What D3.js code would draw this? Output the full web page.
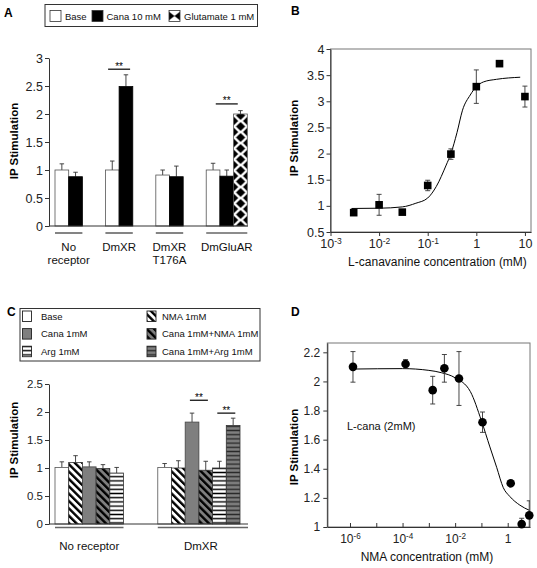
<!DOCTYPE html>
<html><head><meta charset="utf-8">
<script src="https://cdn.jsdelivr.net/npm/d3@7"></script>
<style>
body{margin:0;background:#fff;}
svg{display:block;font-family:"Liberation Sans",Arial,Helvetica,sans-serif;}
</style></head><body>
<svg id="c" width="537" height="568"></svg>
<script>
// ---------- Panel A data ----------
const groupsA = ["No receptor","DmXR","DmXR T176A","DmGluAR"];
const groupLinesA = [["No","receptor"],["DmXR"],["DmXR","T176A"],["DmGluAR"]];
const seriesA = ["Base","Cana 10 mM","Glutamate 1 mM"];
const baseA = [1.0, 1.0, 0.91, 1.0];
const canaA = [0.88, 2.49, 0.88, 0.89];
const gluA = [null, null, null, 2.0];
const baseErrA = [0.11, 0.16, 0.09, 0.12];
const canaErrA = [0.08, 0.21, 0.19, 0.11];
const gluErrA = [null, null, null, 0.06];
const ticksA = [0,0.5,1,1.5,2,2.5,3];
const sigA = [{group:1, a:0, b:1, y:2.80}, {group:3, a:0, b:2, y:2.18}];

// ---------- Panel B data ----------
const concB = [0.003, 0.01, 0.03, 0.1, 0.3, 1, 3, 10];
const ipB = [0.87, 1.02, 0.88, 1.39, 1.99, 3.28, 3.72, 3.09];
const errB = [0, 0.2, 0, 0.1, 0.1, 0.32, 0, 0.2];
const fitBx = [0.0027, 0.01, 0.03, 0.057, 0.1, 0.15, 0.24, 0.3, 0.4, 0.52, 0.75, 1.0, 1.4, 2.6, 8];
const fitBy = [0.95, 0.955, 0.98, 1.05, 1.15, 1.37, 1.78, 2.0, 2.4, 2.83, 3.12, 3.28, 3.37, 3.42, 3.46];
const yTicksB = [0.5,1,1.5,2,2.5,3,3.5,4];
const xTicksB = [1e-3,1e-2,1e-1,1,10];

// ---------- Panel C data ----------
const groupsC = ["No receptor","DmXR"];
const seriesC = ["Base","NMA 1mM","Cana 1mM","Cana 1mM+NMA 1mM","Arg 1mM","Cana 1mM+Arg 1mM"];
const valuesC = [[1.01, 1.10, 1.02, 0.99, 0.91, null],
                 [1.01, 1.00, 1.82, 0.96, 1.00, 1.76]];
const errorsC = [[0.10, 0.12, 0.09, 0.07, 0.10, null],
                 [0.07, 0.13, 0.16, 0.16, 0.12, 0.13]];
const ticksC = [0,0.5,1,1.5,2,2.5];
const sigC = [{group:1, a:2, b:3, y:2.21}, {group:1, a:4, b:5, y:1.98}];

// ---------- Panel D data ----------
const concD = [1.3e-6, 1.3e-4, 1.4e-3, 3.9e-3, 1.4e-2, 0.11, 1.3, 3.4, 6.6];
const ipD = [2.10, 2.12, 1.94, 2.09, 2.02, 1.72, 1.30, 1.02, 1.08];
const errD = [0.105, 0.03, 0.095, 0.095, 0.185, 0.07, 0, 0.04, 0.1];
const fitDx = [1.3e-6, 1e-4, 1e-3, 3e-3, 0.01, 0.038, 0.1, 0.21, 0.38, 0.68, 1.2, 2.9, 6.6];
const fitDy = [2.085, 2.088, 2.076, 2.06, 2.025, 1.93, 1.73, 1.55, 1.41, 1.27, 1.21, 1.15, 1.115];
const yTicksD = [1,1.2,1.4,1.6,1.8,2,2.2];
const xTicksD = [1e-6,1e-5,1e-4,1e-3,1e-2,1e-1,1];

// ---------- setup ----------
const svg = d3.select("#c");
svg.append("rect").attr("width",537).attr("height",568).attr("fill","#fff");
const defs = svg.append("defs");
const GRAY = "#7f7f7f";

function diagPattern(id, bg, fg){
  const p = defs.append("pattern").attr("id",id).attr("patternUnits","userSpaceOnUse")
    .attr("width",5.2).attr("height",5.2).attr("patternTransform","rotate(-45)");
  p.append("rect").attr("width",5.2).attr("height",5.2).attr("fill",bg);
  p.append("rect").attr("width",2.4).attr("height",5.2).attr("fill",fg);
}
function horizPattern(id, bg, fg){
  const p = defs.append("pattern").attr("id",id).attr("patternUnits","userSpaceOnUse")
    .attr("width",4).attr("height",4.2);
  p.append("rect").attr("width",4).attr("height",4.2).attr("fill",bg);
  p.append("rect").attr("y",1.4).attr("width",4).attr("height",1.4).attr("fill",fg);
}
function diamondPattern(id, x0){
  const p = defs.append("pattern").attr("id",id).attr("patternUnits","userSpaceOnUse")
    .attr("x",x0).attr("y",0).attr("width",14).attr("height",11);
  p.append("rect").attr("width",14).attr("height",11).attr("fill","#fff");
  const d = (cx,cy)=>`${cx},${cy-4.6} ${cx+4.6},${cy} ${cx},${cy+4.6} ${cx-4.6},${cy}`;
  [[7,5.5],[0,0],[14,0],[0,11],[14,11]].forEach(([cx,cy])=>
    p.append("polygon").attr("points",d(cx,cy)).attr("fill","#000"));
}
diagPattern("nma","#fff","#000");
diagPattern("canaNma",GRAY,"#000");
horizPattern("arg","#fff","#000");
horizPattern("canaArg",GRAY,"#2a2a2a");

function styleAxis(g, fs){
  g.selectAll("path.domain").attr("stroke","#333").attr("stroke-width",1);
  g.selectAll(".tick line").attr("stroke","#333");
  g.selectAll(".tick text").attr("fill","#222").attr("font-size",fs)
    .attr("font-family",'"Liberation Sans",Arial,sans-serif');
}
function supLabels(g){
  g.selectAll(".tick text").each(function(d){
    const t = d3.select(this);
    const txt = t.text();
    if(txt === "") return;
    const e = Math.round(Math.log10(d));
    t.text(null);
    if(e === 0){ t.text("1"); }
    else if(e === 1){ t.text("10"); }
    else {
      t.append("tspan").text("10");
      t.append("tspan").attr("dy","-0.45em").attr("font-size","0.68em").text(String(e));
    }
  });
}
function panelLetter(t,x,y){
  svg.append("text").attr("x",x).attr("y",y).attr("font-size",12).attr("font-weight","bold").attr("fill","#000").text(t);
}
function yLabel(x,y){
  svg.append("text").attr("transform",`translate(${x},${y}) rotate(-90)`)
    .attr("text-anchor","middle").attr("font-size",11.5).attr("font-weight","bold").attr("fill","#000").text("IP Stimulation");
}
function errBar(g, x, y1, y2, cap){
  g.append("line").attr("x1",x).attr("x2",x).attr("y1",y1).attr("y2",y2).attr("stroke","#333").attr("stroke-width",0.9);
  g.append("line").attr("x1",x-cap/2).attr("x2",x+cap/2).attr("y1",y2).attr("y2",y2).attr("stroke","#333").attr("stroke-width",0.9);
}
function stars(g, c, y, w){
  g.append("line").attr("x1",c-w/2).attr("x2",c+w/2).attr("y1",y).attr("y2",y).attr("stroke","#000").attr("stroke-width",1.2);
  g.append("text").attr("x",c).attr("y",y+0.5).attr("text-anchor","middle").attr("font-size",10)
    .attr("font-family",'"Liberation Sans",Arial,sans-serif').attr("fill","#000").text("**");
}

// ================= Panel A =================
panelLetter("A",4,17);
const xA = d3.scaleBand().domain(groupsA).range([55,247.3]).paddingInner(0.185).paddingOuter(0);
const slotA = xA.bandwidth()/3;
const yA = d3.scaleLinear().domain([0,3]).range([226,58]);
diamondPattern("glu", xA("DmGluAR")+2*slotA);
const fillsA = ["#fff","#000","url(#glu)"];
const gA = svg.append("g");
const seriesValsA = [baseA, canaA, gluA];
const seriesErrsA = [baseErrA, canaErrA, gluErrA];
groupsA.forEach((g,i)=>{
  seriesValsA.forEach((vals,s)=>{
    const v = vals[i]; if(v==null) return;
    const x = xA(g)+s*slotA;
    const e = seriesErrsA[s][i];
    errBar(gA, x+slotA/2, yA(v), yA(v+e), 4.5);
    gA.append("rect").attr("x",x).attr("y",yA(v)).attr("width",slotA).attr("height",yA(0)-yA(v))
      .attr("fill",fillsA[s]).attr("stroke",s===1?"#000":"#555").attr("stroke-width",0.8);
  });
  const n = seriesValsA.filter(a=>a[i]!=null).length;
  gA.append("line").attr("x1",xA(g)).attr("x2",xA(g)+n*slotA).attr("y1",233).attr("y2",233)
    .attr("stroke","#666").attr("stroke-width",1.6);
  const cx = xA(g)+n*slotA/2;
  groupLinesA[i].forEach((ln,k)=>{
    gA.append("text").attr("x",cx).attr("y",251+k*13).attr("text-anchor","middle").attr("font-size",11.5).attr("fill","#111").text(ln);
  });
});
sigA.forEach(s=>{
  const g = groupsA[s.group];
  const c = xA(g)+((s.a+0.5)+(s.b+0.5))/2*slotA;
  stars(gA, c, yA(s.y), 22);
});
const axA = gA.append("g").attr("transform","translate(49,0)")
  .call(d3.axisLeft(yA).tickValues(ticksA).tickSize(4).tickSizeOuter(0).tickPadding(2).tickFormat(d3.format("~g")));
styleAxis(axA,12.5);
gA.append("line").attr("x1",49).attr("x2",248).attr("y1",226).attr("y2",226).attr("stroke","#333");
yLabel(18,141);
// legend A
(function(){
  const p = defs.append("pattern").attr("id","gluLeg").attr("patternUnits","userSpaceOnUse")
    .attr("x",169-1.5).attr("y",10.5-5.5).attr("width",14).attr("height",11);
  p.append("rect").attr("width",14).attr("height",11).attr("fill","#000");
  p.append("polygon").attr("points","7,0 14,5.5 7,11 0,5.5").attr("fill","#fff");
})();
const lgA = svg.append("g");
lgA.append("rect").attr("x",45).attr("y",4.5).attr("width",212.5).attr("height",22).attr("fill","#fff").attr("stroke","#333").attr("stroke-width",1);
const legA = [{sw:50,tx:65},{sw:92,tx:106.5},{sw:169,tx:184}];
seriesA.forEach((s,i)=>{
  lgA.append("rect").attr("x",legA[i].sw).attr("y",10.5).attr("width",11).attr("height",11)
    .attr("fill", i===2 ? "url(#gluLeg)" : fillsA[i]).attr("stroke","#333").attr("stroke-width",0.8);
  lgA.append("text").attr("x",legA[i].tx).attr("y",20).attr("font-size",9.5).attr("fill","#111").text(s);
});

// ================= Panel B =================
panelLetter("B",291,15);
const xB = d3.scaleLog().domain([1e-3, Math.pow(10,1.125)]).range([330.5,531]);
const yB = d3.scaleLinear().domain([0.5,4]).range([232,49]);
const gB = svg.append("g");
gB.append("rect").attr("x",330.5).attr("y",49).attr("width",531-330.5).attr("height",232-49)
  .attr("fill","none").attr("stroke","#777").attr("stroke-width",1);
const axBy = gB.append("g").attr("transform","translate(330.5,0)")
  .call(d3.axisLeft(yB).tickValues(yTicksB).tickSize(4).tickSizeOuter(0).tickPadding(2).tickFormat(d3.format("~g")));
styleAxis(axBy,12.5);
const axBx = gB.append("g").attr("transform","translate(0,232)")
  .call(d3.axisBottom(xB).tickValues(xTicksB).tickSize(4).tickSizeOuter(0).tickPadding(3).tickFormat(d=>String(d)));
styleAxis(axBx,12.5);
supLabels(axBx);
const lineB = d3.line().x(d=>xB(d[0])).y(d=>yB(d[1])).curve(d3.curveMonotoneX);
gB.append("path").attr("d",lineB(fitBx.map((x,i)=>[x,fitBy[i]]))).attr("fill","none").attr("stroke","#000").attr("stroke-width",1);
concB.forEach((c,i)=>{
  const x = xB(c);
  if(errB[i]>0){
    const gg = gB.append("g");
    gg.append("line").attr("x1",x).attr("x2",x).attr("y1",yB(ipB[i]-errB[i])).attr("y2",yB(ipB[i]+errB[i])).attr("stroke","#333").attr("stroke-width",0.9);
    [ipB[i]-errB[i], ipB[i]+errB[i]].forEach(v=>gg.append("line").attr("x1",x-2.5).attr("x2",x+2.5).attr("y1",yB(v)).attr("y2",yB(v)).attr("stroke","#333").attr("stroke-width",0.9));
  }
  gB.append("rect").attr("x",x-3.8).attr("y",yB(ipB[i])-3.8).attr("width",7.6).attr("height",7.6).attr("fill","#000");
});
gB.append("text").attr("x",437.5).attr("y",266).attr("text-anchor","middle").attr("font-size",12).attr("fill","#111").text("L-canavanine concentration (mM)");
yLabel(297.5,138);

// ================= Panel C =================
panelLetter("C",7,316);
const xC = d3.scaleBand().domain(groupsC).range([55,240]).paddingInner(0.2).paddingOuter(0);
const slotC = xC.bandwidth()/6;
const yC = d3.scaleLinear().domain([0,2.5]).range([524,384]);
const fillsC = ["#fff","url(#nma)",GRAY,"url(#canaNma)","url(#arg)","url(#canaArg)"];
const strokeC = ["#555","#333","#444","#333","#333","#333"];
const gC = svg.append("g");
groupsC.forEach((g,i)=>{
  let n = 0;
  valuesC[i].forEach((v,s)=>{
    if(v==null) return;
    n = s+1;
    const x = xC(g)+s*slotC;
    errBar(gC, x+slotC/2, yC(v), yC(v+errorsC[i][s]), 4.5);
    gC.append("rect").attr("x",x).attr("y",yC(v)).attr("width",slotC).attr("height",yC(0)-yC(v))
      .attr("fill",fillsC[s]).attr("stroke",strokeC[s]).attr("stroke-width",0.8);
  });
  const x2 = i===groupsC.length-1 ? 248 : xC(g)+n*slotC;
  gC.append("line").attr("x1",xC(g)).attr("x2",x2).attr("y1",527.5).attr("y2",527.5).attr("stroke","#666").attr("stroke-width",1.5);
  gC.append("text").attr("x",(xC(g)+x2)/2 - (i===1?2:0)).attr("y",550).attr("text-anchor","middle").attr("font-size",11.5).attr("fill","#111").text(g);
});
sigC.forEach(s=>{
  const g = groupsC[s.group];
  const c = xC(g)+((s.a+0.5)+(s.b+0.5))/2*slotC;
  stars(gC, c, yC(s.y), 18);
});
const axC = gC.append("g").attr("transform","translate(49,0)")
  .call(d3.axisLeft(yC).tickValues(ticksC).tickSize(4).tickSizeOuter(0).tickPadding(2).tickFormat(d3.format("~g")));
styleAxis(axC,11.5);
gC.append("line").attr("x1",49).attr("x2",248).attr("y1",524).attr("y2",524).attr("stroke","#333");
yLabel(18,440);
// legend C
const lgC = svg.append("g");
lgC.append("rect").attr("x",20).attr("y",308.5).attr("width",240).attr("height",52.5).attr("fill","#fff").attr("stroke","#333");
const legOrderC = [[0,0],[2,1],[4,2],[1,0],[3,1],[5,2]];
legOrderC.forEach(([s,row],k)=>{
  const col = k<3 ? 0 : 1;
  const sx = col===0 ? 22.5 : 147;
  const tx = col===0 ? 41 : 162;
  const yy = 311 + row*17.6;
  lgC.append("rect").attr("x",sx).attr("y",yy).attr("width",9).attr("height",10.5)
    .attr("fill",fillsC[s]).attr("stroke","#222").attr("stroke-width",0.9);
  lgC.append("text").attr("x",tx).attr("y",yy+8.8).attr("font-size",9.5).attr("fill","#111").text(seriesC[s]);
});

// ================= Panel D =================
panelLetter("D",291,316);
const xD = d3.scaleLog().domain([Math.pow(10,-6.863), Math.pow(10,0.848)]).range([327.3,530]);
const yD = d3.scaleLinear().domain([1,2.264]).range([527,343]);
const gD = svg.append("g");
defs.append("clipPath").attr("id","clipD").append("rect").attr("x",327.3).attr("y",343).attr("width",530-327.3).attr("height",527-343);
gD.append("rect").attr("x",327.3).attr("y",343).attr("width",530-327.3).attr("height",527-343)
  .attr("fill","none").attr("stroke","#777").attr("stroke-width",1);
const axDy = gD.append("g").attr("transform","translate(327.3,0)")
  .call(d3.axisLeft(yD).tickValues(yTicksD).tickSize(4).tickSizeOuter(0).tickPadding(3).tickFormat(d3.format("~g")));
styleAxis(axDy,12);
const axDx = gD.append("g").attr("transform","translate(0,527)")
  .call(d3.axisBottom(xD).tickValues(xTicksD).tickSize(4).tickSizeOuter(0).tickPadding(3)
  .tickFormat(d=>{ const e=Math.round(Math.log10(d)); return e%2===0 ? String(d) : ""; }));
styleAxis(axDx,12);
supLabels(axDx);
axDx.selectAll(".tick line").attr("y1",-4).attr("y2",0);
const lineD = d3.line().x(d=>xD(d[0])).y(d=>yD(d[1])).curve(d3.curveMonotoneX);
gD.append("path").attr("d",lineD(fitDx.map((x,i)=>[x,fitDy[i]]))).attr("fill","none").attr("stroke","#000").attr("stroke-width",1);
const gDe = gD.append("g").attr("clip-path","url(#clipD)");
concD.forEach((c,i)=>{
  const x = xD(c);
  if(errD[i]>0){
    gDe.append("line").attr("x1",x).attr("x2",x).attr("y1",yD(ipD[i]-errD[i])).attr("y2",yD(ipD[i]+errD[i])).attr("stroke","#333").attr("stroke-width",0.9);
    [ipD[i]-errD[i], ipD[i]+errD[i]].forEach(v=>gDe.append("line").attr("x1",x-2.5).attr("x2",x+2.5).attr("y1",yD(v)).attr("y2",yD(v)).attr("stroke","#333").attr("stroke-width",0.9));
  }
  gD.append("circle").attr("cx",x).attr("cy",yD(ipD[i])).attr("r",4.3).attr("fill","#000");
});
gD.append("text").attr("x",347).attr("y",430).attr("font-size",11).attr("fill","#111").text("L-cana (2mM)");
gD.append("text").attr("x",427).attr("y",561).attr("text-anchor","middle").attr("font-size",12).attr("fill","#111").text("NMA concentration (mM)");
yLabel(297.5,447);
</script>
</body></html>
